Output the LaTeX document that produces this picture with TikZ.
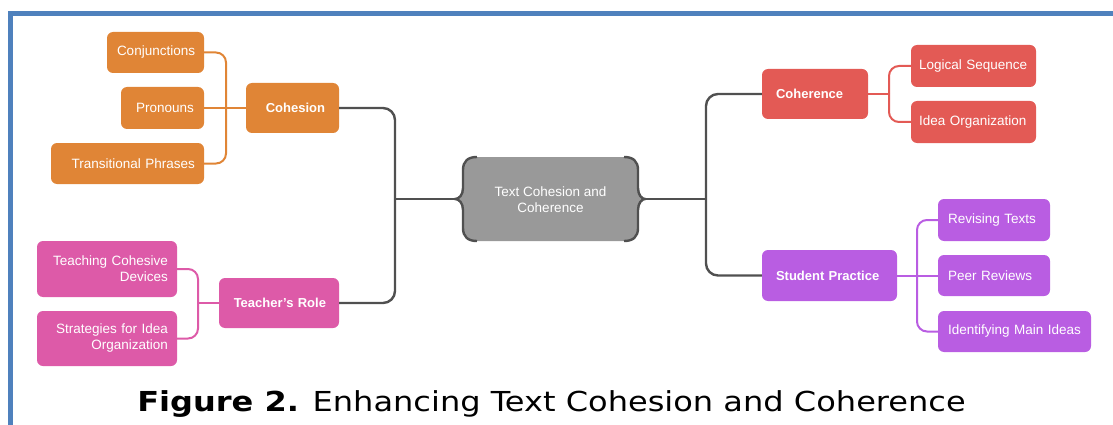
\documentclass[tikz,border=0pt]{standalone}
\usepackage{fontspec}
\setmainfont{Liberation Sans}
\newfontfamily\capfont[FakeStretch=1.165]{DejaVu Sans}
\definecolor{corange}{HTML}{E08536}
\definecolor{cred}{HTML}{E35A55}
\definecolor{cpink}{HTML}{DD5AA8}
\definecolor{cpurple}{HTML}{B95DE2}
\definecolor{cgray}{HTML}{999999}
\definecolor{cdark}{HTML}{505050}
\definecolor{cframe}{HTML}{4F81BD}
\tikzset{
  box/.style={rounded corners=6pt, inner ysep=2pt, text=white,
    font=\fontsize{13.5}{16}\selectfont},
  bbox/.style={box, font=\bfseries\fontsize{13}{16}\selectfont},
  main/.style={draw=cdark, line width=2.4pt, rounded corners=12pt},
  orbr/.style={draw=corange, line width=2pt, rounded corners=10pt},
  pkbr/.style={draw=cpink, line width=2pt, rounded corners=10pt},
  rdbr/.style={draw=cred, line width=2pt, rounded corners=10pt},
  pubr/.style={draw=cpurple, line width=2pt, rounded corners=10pt},
}
\hyphenpenalty=10000
\begin{document}
\begin{tikzpicture}[x=1pt,y=-1pt]
\useasboundingbox (0,0) rectangle (1113,425);
% frame
\draw[cframe, line width=5pt] (10.5,425) -- (10.5,13.5) -- (1113,13.5);

% centre node
\fill[cgray] (477,157) -- (624,157)
  .. controls (633,157) and (638,161) .. (638,170) -- (638,188)
  .. controls (638,195) and (642,199) .. (645,199)
  .. controls (642,199) and (638,203) .. (638,210) -- (638,228)
  .. controls (638,237) and (633,241) .. (624,241) -- (477,241)
  .. controls (468,241) and (463,237) .. (463,228) -- (463,210)
  .. controls (463,203) and (459,199) .. (455,199)
  .. controls (459,199) and (463,195) .. (463,188) -- (463,170)
  .. controls (463,161) and (468,157) .. (477,157) -- cycle;
\draw[cdark, line width=2.4pt] (477,157)
  .. controls (468,157) and (463,161) .. (463,170) -- (463,188)
  .. controls (463,195) and (459,199) .. (455,199)
  .. controls (459,199) and (463,203) .. (463,210) -- (463,228)
  .. controls (463,237) and (468,241) .. (477,241);
\draw[cdark, line width=2.4pt] (624,157)
  .. controls (633,157) and (638,161) .. (638,170) -- (638,188)
  .. controls (638,195) and (642,199) .. (645,199)
  .. controls (642,199) and (638,203) .. (638,210) -- (638,228)
  .. controls (638,237) and (633,241) .. (624,241);
\node[text=white, align=center, font=\fontsize{13.5}{16}\selectfont,
  minimum width=175pt, minimum height=84pt] (c) at (550.5,200)
  {Text Cohesion and\\Coherence};
\coordinate (cL) at (455,199);
\coordinate (cR) at (645,199);

% left: cohesion (orange)
\node[bbox, fill=corange, minimum height=50pt, inner xsep=14pt, text width=65pt, align=right] (coh) at (292.5,108) {Cohesion};
\node[box, fill=corange, minimum height=41pt, inner xsep=10pt, text width=77pt, align=right] (conj) at (155.5,52.5) {Conjunctions};
\node[box, fill=corange, minimum height=42pt, inner xsep=10pt, text width=63pt, align=right] (pron) at (162.5,108) {Pronouns};
\node[box, fill=corange, minimum height=41pt, inner xsep=9pt, text width=135pt, align=right] (tp) at (127.5,163.5) {Transitional Phrases};

% left: teacher's role (pink)
\node[bbox, fill=cpink, minimum height=50pt, inner xsep=13pt, text width=94pt, align=right] (tr) at (279,303) {Teacher's Role};
\node[box, fill=cpink, minimum height=56pt, inner xsep=9pt, text width=122pt, align=right] (tcd) at (107,269) {Teaching Cohesive\\Devices};
\node[box, fill=cpink, minimum height=55pt, inner xsep=9pt, text width=122pt, align=right] (sio) at (107,338.5) {Strategies for Idea\\Organization};

% right: coherence (red)
\node[bbox, fill=cred, minimum height=50pt, inner xsep=14pt, text width=78pt, align=left] (cohr) at (815,94) {Coherence};
\node[box, fill=cred, minimum height=42pt, inner xsep=8pt, text width=109pt, align=left] (ls) at (973.5,66) {Logical Sequence};
\node[box, fill=cred, minimum height=42pt, inner xsep=8pt, text width=109pt, align=left] (io) at (973.5,122) {Idea Organization};

% right: student practice (purple)
\node[bbox, fill=cpurple, minimum height=51pt, inner xsep=14pt, text width=107pt, align=left] (sp) at (829.5,275.5) {Student Practice};
\node[box, fill=cpurple, minimum height=42pt, inner xsep=10pt, text width=92pt, align=left] (rt) at (994,220) {Revising Texts};
\node[box, fill=cpurple, minimum height=41pt, inner xsep=10pt, text width=92pt, align=left] (pr) at (994,275.5) {Peer Reviews};
\node[box, fill=cpurple, minimum height=41pt, inner xsep=10pt, text width=133pt, align=left] (imi) at (1014.5,331.5) {Identifying Main Ideas};

% junctions
\coordinate (jL) at (395,199);
\coordinate (jR) at (706,199);
\coordinate (jO) at (226,108);
\coordinate (jP) at (198,303);
\coordinate (jRd) at (889,94);
\coordinate (jPu) at (917,275.5);

% main connectors
\draw[main] (cL) -- (jL);
\draw[main] (coh.east) -| (jL);
\draw[main] (tr.east) -| (jL);
\draw[main] (cR) -- (jR);
\draw[main] (jR) |- (cohr.west);
\draw[main] (jR) |- (sp.west);

% orange bracket
\draw[orbr] (conj.east) -| (jO);
\draw[orbr] (tp.east) -| (jO);
\draw[orbr] (pron.east) -- (coh.west);
% pink bracket
\draw[pkbr] (tcd.east) -| (jP);
\draw[pkbr] (sio.east) -| (jP);
\draw[pkbr] (jP) -- (tr.west);
% red bracket
\draw[rdbr] (cohr.east) -- (jRd);
\draw[rdbr] (jRd) |- (ls.west);
\draw[rdbr] (jRd) |- (io.west);
% purple bracket
\draw[pubr] (sp.east) -- (pr.west);
\draw[pubr] (jPu) |- (rt.west);
\draw[pubr] (jPu) |- (imi.west);

% caption
\node[anchor=base, inner sep=0pt, font=\capfont\fontsize{27.5}{30}\selectfont] (cap) at (551.5,411.5)
  {\textbf{Figure 2.} Enhancing Text Cohesion and Coherence};
\end{tikzpicture}
\end{document}
